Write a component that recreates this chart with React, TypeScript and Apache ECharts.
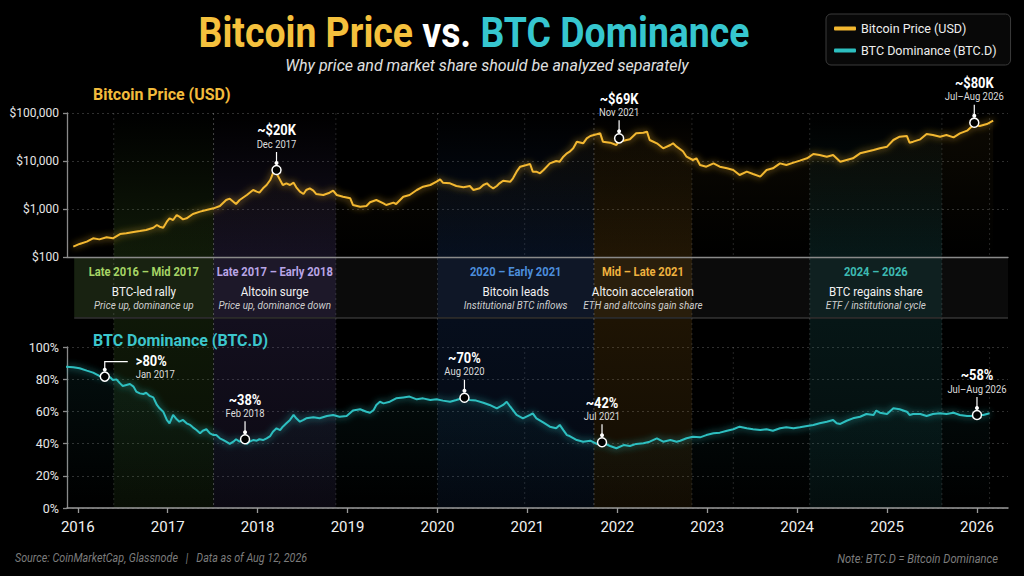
import React, { useEffect, useRef } from 'react';
import * as echarts from 'echarts';

const X_MIN = 2015.88;
const X_MAX = 2026.345;
const YEAR_TICKS = [2016, 2017, 2018, 2019, 2020, 2021, 2022, 2023, 2024, 2025, 2026];

const PRICE_POINTS: [number, number][] = [
  [2015.95,164],[2016.02,187],[2016.10,209],[2016.17,245],[2016.24,233],[2016.32,257],[2016.39,245],[2016.47,301],[2016.54,311],[2016.62,332],[2016.69,348],[2016.76,365],[2016.84,408],[2016.88,464],[2016.91,428],[2016.95,408],[2016.99,544],[2017.02,639],[2017.06,590],[2017.10,750],[2017.13,692],[2017.17,609],[2017.21,639],[2017.28,787],[2017.36,881],[2017.43,953],[2017.51,1032],[2017.58,1155],[2017.65,1541],[2017.69,1641],[2017.73,1422],[2017.76,1270],[2017.80,1541],[2017.88,1958],[2017.95,2489],[2017.99,2296],[2018.02,2187],[2018.06,2697],[2018.10,3162],[2018.14,4018],[2018.17,5534],[2018.20,6300],[2018.22,5100],[2018.25,4018],[2018.28,3162],[2018.32,3427],[2018.36,3162],[2018.40,3540],[2018.43,2831],[2018.47,2296],[2018.51,2055],[2018.54,2489],[2018.58,2697],[2018.62,2410],[2018.65,2055],[2018.73,1958],[2018.80,2187],[2018.84,2410],[2018.88,1958],[2018.95,1806],[2019.03,1667],[2019.06,1212],[2019.14,1119],[2019.21,1155],[2019.25,1380],[2019.32,1541],[2019.40,1312],[2019.43,1212],[2019.51,1355],[2019.54,1270],[2019.62,1806],[2019.69,1958],[2019.77,2489],[2019.84,2917],[2019.92,3162],[2019.99,3712],[2020.03,4150],[2020.06,3540],[2020.14,3427],[2020.21,3013],[2020.29,2831],[2020.36,3013],[2020.40,2489],[2020.47,2697],[2020.51,3162],[2020.55,3427],[2020.58,3013],[2020.62,2697],[2020.66,3013],[2020.69,3427],[2020.73,3890],[2020.81,3712],[2020.84,4355],[2020.88,5998],[2020.92,7621],[2020.99,8260],[2021.03,8664],[2021.06,5998],[2021.10,5998],[2021.14,5534],[2021.18,6499],[2021.25,8937],[2021.32,10000],[2021.36,9680],[2021.40,12300],[2021.44,14450],[2021.47,15650],[2021.51,18360],[2021.55,25280],[2021.62,23330],[2021.66,29650],[2021.70,33190],[2021.77,35950],[2021.81,37700],[2021.84,25280],[2021.92,24090],[2021.99,21540],[2022.03,27380],[2022.07,26520],[2022.14,28270],[2022.21,37700],[2022.29,38900],[2022.33,40840],[2022.36,27380],[2022.44,23330],[2022.51,18360],[2022.59,21540],[2022.62,23330],[2022.66,19900],[2022.73,16000],[2022.77,12300],[2022.84,10490],[2022.88,11370],[2022.92,8260],[2022.99,7621],[2023.07,8937],[2023.14,7621],[2023.22,7033],[2023.29,6499],[2023.36,5108],[2023.44,5998],[2023.51,5358],[2023.59,4717],[2023.66,6499],[2023.73,7033],[2023.81,8937],[2023.88,8260],[2023.96,9230],[2024.03,10160],[2024.11,11370],[2024.18,13990],[2024.25,13340],[2024.33,12300],[2024.40,13340],[2024.48,9680],[2024.55,10490],[2024.62,11370],[2024.70,14450],[2024.77,15650],[2024.85,16950],[2024.92,18360],[2025.00,19900],[2025.07,27380],[2025.14,32140],[2025.22,33190],[2025.25,24090],[2025.29,25280],[2025.37,28270],[2025.44,36530],[2025.51,34830],[2025.59,32140],[2025.66,34830],[2025.74,31130],[2025.81,37700],[2025.89,42830],[2025.96,56230],[2026.03,53580],[2026.11,58970],[2026.18,69200],
];

const DOMINANCE_POINTS: [number, number][] = [
  [2015.87,87.8],[2015.95,87.4],[2016.02,86.8],[2016.10,85.3],[2016.17,84.1],[2016.24,82.0],[2016.30,81.6],[2016.36,81.2],[2016.39,79.5],[2016.43,79.9],[2016.47,77.4],[2016.50,75.8],[2016.54,76.4],[2016.58,77.0],[2016.62,75.4],[2016.65,72.3],[2016.69,71.2],[2016.73,70.8],[2016.76,71.6],[2016.80,69.6],[2016.84,68.7],[2016.88,64.0],[2016.91,61.9],[2016.95,59.8],[2016.99,54.7],[2017.02,52.6],[2017.06,57.8],[2017.10,55.1],[2017.13,53.6],[2017.17,54.7],[2017.21,52.6],[2017.25,51.6],[2017.28,50.1],[2017.32,48.4],[2017.36,46.4],[2017.39,48.0],[2017.43,48.9],[2017.47,46.4],[2017.51,45.3],[2017.54,45.3],[2017.58,43.3],[2017.62,42.2],[2017.65,41.2],[2017.69,39.8],[2017.73,41.2],[2017.76,42.7],[2017.80,41.2],[2017.84,42.2],[2017.88,39.8],[2017.91,41.2],[2017.95,42.2],[2017.99,41.8],[2018.02,42.7],[2018.06,42.2],[2018.10,43.3],[2018.14,44.7],[2018.17,47.4],[2018.21,49.5],[2018.25,48.4],[2018.28,50.5],[2018.32,52.6],[2018.36,54.7],[2018.40,57.8],[2018.43,55.7],[2018.47,53.6],[2018.51,54.7],[2018.54,55.7],[2018.62,56.3],[2018.69,55.7],[2018.77,57.1],[2018.84,57.8],[2018.91,56.7],[2018.99,57.1],[2019.06,60.5],[2019.14,61.3],[2019.21,59.8],[2019.25,59.2],[2019.29,60.9],[2019.32,64.0],[2019.36,66.0],[2019.40,65.0],[2019.47,66.0],[2019.54,68.1],[2019.62,68.7],[2019.69,69.2],[2019.77,67.5],[2019.84,68.1],[2019.92,67.1],[2019.99,67.5],[2020.06,66.7],[2020.14,66.0],[2020.21,67.1],[2020.29,68.5],[2020.36,67.1],[2020.43,66.7],[2020.51,65.4],[2020.58,64.0],[2020.66,61.9],[2020.73,64.0],[2020.77,66.0],[2020.81,62.9],[2020.88,57.8],[2020.95,55.7],[2021.03,57.8],[2021.06,58.8],[2021.10,55.7],[2021.18,53.0],[2021.25,50.5],[2021.32,49.5],[2021.36,51.6],[2021.40,48.4],[2021.44,45.3],[2021.47,44.7],[2021.55,42.2],[2021.62,41.2],[2021.70,41.8],[2021.77,39.8],[2021.83,40.8],[2021.92,38.5],[2021.99,37.1],[2022.07,39.1],[2022.14,38.5],[2022.21,39.8],[2022.29,40.2],[2022.36,41.2],[2022.44,43.3],[2022.51,41.2],[2022.59,42.2],[2022.66,41.2],[2022.70,41.8],[2022.77,43.3],[2022.84,44.3],[2022.92,43.9],[2022.99,45.3],[2023.07,46.4],[2023.14,46.8],[2023.22,48.0],[2023.29,48.9],[2023.36,50.5],[2023.44,49.5],[2023.51,48.9],[2023.59,48.4],[2023.66,48.9],[2023.73,48.0],[2023.81,49.5],[2023.88,50.1],[2023.96,49.5],[2024.03,50.1],[2024.11,50.9],[2024.18,51.6],[2024.25,52.6],[2024.33,53.6],[2024.40,54.7],[2024.44,52.6],[2024.48,52.2],[2024.55,54.2],[2024.62,55.7],[2024.70,56.7],[2024.77,58.4],[2024.85,57.8],[2024.88,60.5],[2024.92,59.2],[2025.00,58.4],[2025.07,61.9],[2025.14,61.3],[2025.22,59.8],[2025.25,57.8],[2025.29,58.4],[2025.37,58.4],[2025.44,57.1],[2025.51,58.4],[2025.59,58.8],[2025.66,58.4],[2025.74,59.2],[2025.81,57.8],[2025.89,57.1],[2025.96,57.1],[2026.00,57.8],[2026.07,57.8],[2026.14,58.8],
];

const PRICE_NOTES = [
  { x: 2018.21, y: 6500, title: '~$20K', sub: 'Dec 2017' },
  { x: 2022.02, y: 29650, title: '~$69K', sub: 'Nov 2021' },
  { x: 2025.97, y: 62900, title: '~$80K', sub: 'Jul–Aug 2026' },
];

const DOMINANCE_NOTES = [
  { x: 2016.30, y: 81.6, title: '>80%', sub: 'Jan 2017', side: 'right' },
  { x: 2017.86, y: 42.7, title: '~38%', sub: 'Feb 2018' },
  { x: 2020.30, y: 68.5, title: '~70%', sub: 'Aug 2020' },
  { x: 2021.83, y: 40.8, title: '~42%', sub: 'Jul 2021' },
  { x: 2026.00, y: 57.8, title: '~58%', sub: 'Jul–Aug 2026' },
];

const BANDS = [
  { start: 2016.40, end: 2017.51, period: 'Late 2016 – Mid 2017', headline: 'BTC-led rally', detail: 'Price up, dominance up' },
  { start: 2017.51, end: 2018.87, period: 'Late 2017 – Early 2018', headline: 'Altcoin surge', detail: 'Price up, dominance down' },
  { start: 2020.00, end: 2021.74, period: '2020 – Early 2021', headline: 'Bitcoin leads', detail: 'Institutional BTC inflows' },
  { start: 2021.74, end: 2022.83, period: 'Mid – Late 2021', headline: 'Altcoin acceleration', detail: 'ETH and altcoins gain share' },
  { start: 2024.14, end: 2025.61, period: '2024 – 2026', headline: 'BTC regains share', detail: 'ETF / institutional cycle' },
];
const BAND_ROW_START = 2015.96;
const GUIDE_YEARS = [2020.97, 2023.29, 2026.14];

const BAND_TEXT_COLORS = ['#A6D465', '#B9A5E6', '#4C8EDC', '#EFB23F', '#3DBAB2'];
const BAND_RGB = ['72,120,40', '95,75,150', '30,70,140', '150,100,20', '30,110,110'];

const FONT = "Roboto, 'Noto Sans', sans-serif";
const NARROW = 0.86;
const GOLD = '#F3B830';
const TEAL = '#2DBFC0';

const LEFT = 67;
const RIGHT = 16;
const TOP_T = 113;
const TOP_B = 257;
const ROW_T = 258;
const ROW_B = 318;
const BOT_T = 347;
const BOT_B = 508;

function grad(rgb: string, a0: number, a1: number) {
  return {
    type: 'linear', x: 0, y: 0, x2: 0, y2: 1,
    colorStops: [
      { offset: 0, color: `rgba(${rgb},${a0})` },
      { offset: 1, color: `rgba(${rgb},${a1})` },
    ],
  };
}

function txt(text: string, x: number, y: number, style: any, scale = NARROW, z?: number) {
  const el: any = {
    type: 'text', x, y, scaleX: scale,
    style: { text, x: 0, y: 0, verticalAlign: 'middle', fontFamily: FONT, ...style },
  };
  if (z !== undefined) el.z = z;
  return el;
}

function noteRenderer(notes: any[]) {
  return (params: any, api: any) => {
    const n = notes[api.value(2)];
    const p = api.coord([api.value(0), api.value(1)]);
    const px = p[0];
    const py = p[1];
    const children: any[] = [];
    const titleStyle = { fill: '#ffffff', fontSize: 15, fontWeight: 'bold' };
    const subStyle = { fill: '#dddddd', fontSize: 11 };
    if (n.side === 'right') {
      children.push({ type: 'polyline', shape: { points: [[px, py - 7], [px, py - 15], [px + 23, py - 15]] }, style: { stroke: '#fff', lineWidth: 1.2, fill: null } });
      children.push({ type: 'circle', shape: { cx: px, cy: py - 7, r: 2 }, style: { fill: '#fff' } });
      children.push(txt(n.title, px + 31, py - 16, { ...titleStyle, align: 'left' }));
      children.push(txt(n.sub, px + 31, py - 2, { ...subStyle, align: 'left' }));
    } else {
      children.push({ type: 'line', shape: { x1: px, y1: py - 18, x2: px, y2: py - 7 }, style: { stroke: '#fff', lineWidth: 1.2 } });
      children.push({ type: 'circle', shape: { cx: px, cy: py - 7, r: 2 }, style: { fill: '#fff' } });
      children.push(txt(n.title, px, py - 40, { ...titleStyle, align: 'center' }));
      children.push(txt(n.sub, px, py - 26, { ...subStyle, align: 'center' }));
    }
    children.push({ type: 'circle', shape: { cx: px, cy: py, r: 4.5 }, style: { fill: '#000', stroke: '#fff', lineWidth: 1.5 } });
    return { type: 'group', children };
  };
}

function bandRenderer(params: any, api: any) {
  const i = api.value(2);
  const b = BANDS[i];
  const rgb = BAND_RGB[i];
  const x0 = api.coord([b.start, 0])[0];
  const x1 = api.coord([b.end, 0])[0];
  const rowStart = api.coord([BAND_ROW_START, 0])[0];
  const rx0 = i === 0 ? rowStart : x0;
  const right = params.coordSys.x + params.coordSys.width;
  const children: any[] = [];
  const dash = { stroke: 'rgba(255,255,255,0.14)', lineWidth: 1, lineDash: [2, 3] };
  if (i === 0) {
    children.push({ type: 'rect', shape: { x: rowStart, y: ROW_T, width: right - rowStart, height: ROW_B - ROW_T }, style: { fill: '#0b0b0b' } });
    children.push({ type: 'line', shape: { x1: rowStart, y1: ROW_B, x2: right, y2: ROW_B }, style: { stroke: '#4a4a4a', lineWidth: 1.2 } });
    GUIDE_YEARS.forEach((g) => {
      const gx = api.coord([g, 0])[0];
      children.push({ type: 'line', shape: { x1: gx, y1: TOP_T, x2: gx, y2: TOP_B }, style: dash });
      children.push({ type: 'line', shape: { x1: gx, y1: BOT_T, x2: gx, y2: BOT_B }, style: dash });
    });
  }
  children.push({ type: 'rect', shape: { x: x0, y: TOP_T, width: x1 - x0, height: TOP_B - TOP_T }, style: { fill: grad(rgb, 0, 0.22) } });
  children.push({ type: 'rect', shape: { x: rx0, y: ROW_T, width: x1 - rx0, height: ROW_B - ROW_T - 1 }, style: { fill: `rgba(${rgb},0.22)` } });
  children.push({ type: 'rect', shape: { x: x0, y: ROW_B + 1, width: x1 - x0, height: BOT_B - ROW_B - 1 }, style: { fill: grad(rgb, 0.2, 0.12) } });
  [x0, x1].forEach((vx) => {
    children.push({ type: 'line', shape: { x1: vx, y1: TOP_T, x2: vx, y2: BOT_B }, style: dash });
  });
  const cx = (rx0 + x1) / 2;
  children.push(txt(b.period, cx, 272, { align: 'center', fill: BAND_TEXT_COLORS[i], fontSize: 13, fontWeight: 'bold' }));
  children.push(txt(b.headline, cx, 291, { align: 'center', fill: '#f2f2f2', fontSize: 13.5 }));
  children.push(txt(b.detail, cx, 305, { align: 'center', fill: '#cfcfcf', fontSize: 11.5, fontStyle: 'italic' }));
  return { type: 'group', children };
}

const axisLineStyle = { color: '#8a8a8a', width: 1.3 };
const splitStyle = { show: true, lineStyle: { color: '#2f2f2f', type: [2, 3] as any, width: 1 } };

export default function App() {
  const ref = useRef<HTMLDivElement>(null);
  useEffect(() => {
    if (!ref.current) return;
    const chart = echarts.init(ref.current, null, { renderer: 'svg' });
    const option: any = {
      animation: false,
      backgroundColor: '#000000',
      textStyle: { fontFamily: FONT },
      legend: {
        orient: 'vertical', left: 826, top: 14,
        data: ['Bitcoin Price (USD)', 'BTC Dominance (BTC.D)'],
        icon: 'roundRect', itemWidth: 22, itemHeight: 4, itemGap: 9,
        padding: [8, 14, 8, 8],
        backgroundColor: '#080808', borderColor: '#3a3a3a', borderWidth: 1, borderRadius: 5,
        textStyle: { color: '#eeeeee', fontSize: 12.5, fontFamily: FONT },
        selectedMode: false,
      },
      grid: [
        { left: LEFT, right: RIGHT, top: TOP_T, height: TOP_B - TOP_T, outerBoundsMode: 'none' },
        { left: LEFT, right: RIGHT, top: BOT_T, height: BOT_B - BOT_T, outerBoundsMode: 'none' },
        { left: LEFT, right: RIGHT, top: 100, height: 410, outerBoundsMode: 'none' },
      ],
      xAxis: [
        { gridIndex: 0, type: 'value', min: X_MIN, max: X_MAX, axisLine: { show: true, lineStyle: axisLineStyle }, axisTick: { show: false }, axisLabel: { show: false }, splitLine: { show: false } },
        {
          gridIndex: 1, type: 'value', min: X_MIN, max: X_MAX,
          axisLine: { show: true, lineStyle: { color: '#9a9a9a', width: 1.5 } },
          axisTick: { show: true, customValues: YEAR_TICKS, length: 5, lineStyle: { color: '#9a9a9a', width: 1.3 } },
          axisLabel: { show: true, customValues: YEAR_TICKS, color: '#f0f0f0', fontSize: 15, margin: 11, fontFamily: FONT, formatter: (v: number) => String(Math.round(v)) },
          splitLine: { show: false },
        },
        { gridIndex: 2, type: 'value', min: X_MIN, max: X_MAX, show: false },
      ],
      yAxis: [
        {
          gridIndex: 0, type: 'log', logBase: 10, min: 100, max: 100000,
          axisLine: { show: true, lineStyle: axisLineStyle },
          axisTick: { show: true, length: 4, lineStyle: axisLineStyle },
          axisLabel: { color: '#e6e6e6', fontSize: 12, margin: 8, fontFamily: FONT, formatter: (v: number) => '$' + Math.round(v).toLocaleString('en-US') },
          splitLine: splitStyle,
        },
        {
          gridIndex: 1, type: 'value', min: 0, max: 100, interval: 20,
          axisLine: { show: true, lineStyle: axisLineStyle },
          axisTick: { show: true, length: 4, lineStyle: axisLineStyle },
          axisLabel: { color: '#e6e6e6', fontSize: 12.5, margin: 8, fontFamily: FONT, formatter: '{value}%' },
          splitLine: splitStyle,
        },
        { gridIndex: 2, type: 'value', min: 0, max: 1, show: false },
      ],
      series: [
        {
          type: 'custom', name: 'bands', xAxisIndex: 2, yAxisIndex: 2, z: 0, silent: true,
          data: BANDS.map((b, i) => [b.start, 0.5, i]),
          renderItem: bandRenderer,
        },
        {
          type: 'line', name: 'Bitcoin Price (USD)', xAxisIndex: 0, yAxisIndex: 0, z: 5,
          data: PRICE_POINTS, showSymbol: false, color: GOLD,
          lineStyle: { color: GOLD, width: 2, shadowBlur: 7, shadowColor: 'rgba(243,184,48,0.8)' },
          areaStyle: { color: grad('243,184,48', 0.07, 0.0) },
        },
        {
          type: 'line', name: 'BTC Dominance (BTC.D)', xAxisIndex: 1, yAxisIndex: 1, z: 5,
          data: DOMINANCE_POINTS, showSymbol: false, color: TEAL,
          lineStyle: { color: TEAL, width: 2, shadowBlur: 7, shadowColor: 'rgba(45,191,192,0.8)' },
          areaStyle: { color: grad('45,191,192', 0.1, 0.0) },
        },
        {
          type: 'custom', name: 'priceNotes', xAxisIndex: 0, yAxisIndex: 0, z: 10, silent: true,
          data: PRICE_NOTES.map((n, i) => [n.x, n.y, i]),
          renderItem: noteRenderer(PRICE_NOTES),
        },
        {
          type: 'custom', name: 'domNotes', xAxisIndex: 1, yAxisIndex: 1, z: 10, silent: true,
          data: DOMINANCE_NOTES.map((n, i) => [n.x, n.y, i]),
          renderItem: noteRenderer(DOMINANCE_NOTES),
        },
      ],
      graphic: [
        {
          type: 'text', z: 100, x: 474, y: 33, scaleX: 0.89,
          style: {
            text: '{a|Bitcoin Price }{b|vs. }{c|BTC Dominance}',
            x: 0, y: 0, align: 'center', verticalAlign: 'middle',
            rich: {
              a: { fill: '#F5C13D', fontSize: 42, fontWeight: 'bold', fontFamily: FONT },
              b: { fill: '#ffffff', fontSize: 42, fontWeight: 'bold', fontFamily: FONT },
              c: { fill: '#36C6CF', fontSize: 42, fontWeight: 'bold', fontFamily: FONT },
            },
          },
        },
        txt('Why price and market share should be analyzed separately', 487, 65, { align: 'center', fill: '#e0e0e0', fontSize: 16, fontStyle: 'italic' }, 1.0, 100),
        txt('Bitcoin Price (USD)', 93, 94, { align: 'left', fill: '#F2BB3C', fontSize: 17, fontWeight: 'bold' }, 0.94, 100),
        txt('BTC Dominance (BTC.D)', 93, 340, { align: 'left', fill: '#3CC6CC', fontSize: 17, fontWeight: 'bold' }, 0.94, 100),
        txt('Source: CoinMarketCap, Glassnode   |   Data as of Aug 12, 2026', 15, 558, { align: 'left', fill: '#7c7c7c', fontSize: 12.5, fontStyle: 'italic' }, NARROW, 100),
        txt('Note: BTC.D = Bitcoin Dominance', 998, 559, { align: 'right', fill: '#7c7c7c', fontSize: 13, fontStyle: 'italic' }, NARROW, 100),
      ],
    };
    chart.setOption(option);
    return () => chart.dispose();
  }, []);
  return <div ref={ref} style={{ position: 'absolute', left: 0, top: 0, width: 1024, height: 576, background: '#000' }} />;
}
